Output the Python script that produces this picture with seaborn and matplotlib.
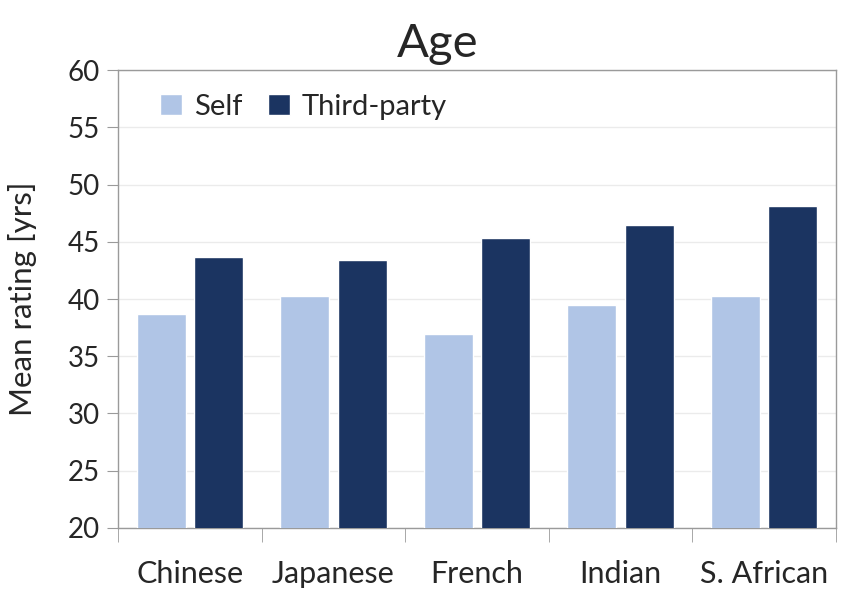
import matplotlib
matplotlib.use("Agg")
import matplotlib.pyplot as plt
import seaborn as sns
import pandas as pd

categories = ["Chinese", "Japanese", "French", "Indian", "S. African"]
self_vals = [38.7, 40.3, 36.9, 39.5, 40.3]
third_vals = [43.7, 43.4, 45.3, 46.5, 48.1]
series = ["Self", "Third-party"]
yticks = [20, 25, 30, 35, 40, 45, 50, 55, 60]

df = pd.DataFrame({
    "cat": categories * 2,
    "val": self_vals + third_vals,
    "series": [series[0]] * len(categories) + [series[1]] * len(categories),
})

sns.set_style("white")
plt.rcParams["font.family"] = ["Lato", "DejaVu Sans"]

fig = plt.figure(figsize=(8.59, 5.97), dpi=100)
ax = fig.add_axes([0.1374, 0.1156, 0.8358, 0.7671])

palette = {"Self": "#B0C5E6", "Third-party": "#1B3461"}
sns.barplot(data=df, x="cat", y="val", hue="series", order=categories,
            hue_order=series, palette=palette, width=0.8, gap=0.15,
            saturation=1, ax=ax, zorder=3)

ax.set_ylim(20, 60)
ax.set_yticks(yticks)
ax.set_xlim(-0.5, len(categories) - 0.5)
ax.yaxis.grid(True, color="#EBEBEB", linewidth=1, zorder=0)
ax.set_axisbelow(True)

for s in ax.spines.values():
    s.set_visible(True)
    s.set_color("#9A9A9A")
    s.set_linewidth(1.0)

ax.tick_params(axis="y", which="major", direction="out", length=8,
               color="#9A9A9A", labelsize=20, pad=5, left=True)
ax.set_xticks(range(len(categories)))
ax.set_xticklabels(categories, fontsize=22)
ax.tick_params(axis="x", which="major", length=0, pad=23)
# boundary ticks between categories
ax.set_xticks([i - 0.5 for i in range(len(categories) + 1)], minor=True)
ax.tick_params(axis="x", which="minor", direction="out", length=10,
               color="#9A9A9A", bottom=True)

ax.set_xlabel("")
ax.set_ylabel("Mean rating [yrs]", fontsize=22.5, labelpad=22)
ax.set_title("")
fig.text(0.51, 0.905, "Age", fontsize=34, ha="center", va="baseline")

leg = ax.legend(loc="upper left", bbox_to_anchor=(0.022, 1.005), frameon=False,
                fontsize=21, ncol=2, handlelength=0.75, handleheight=0.75,
                handletextpad=0.4, columnspacing=0.9)

fig.savefig("out.png", dpi=100)
